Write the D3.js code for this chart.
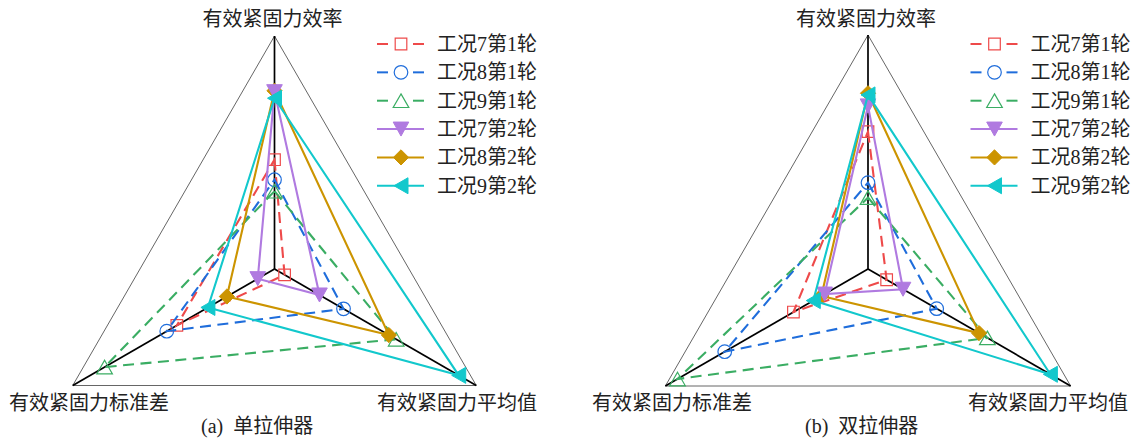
<!DOCTYPE html>
<html>
<head>
<meta charset="utf-8">
<script src="https://cdn.jsdelivr.net/npm/d3@7/dist/d3.min.js"></script>
<style>
  html, body { margin: 0; padding: 0; background: #fff; }
  svg { display: block; }
  text { font-family: "Liberation Serif", "Noto Sans CJK SC", serif; fill: #222; }
</style>
</head>
<body>
<svg id="chart" width="1139" height="439"></svg>
<script>
// Radar axes, clockwise from the top
const categories = ["有效紧固力效率", "有效紧固力平均值", "有效紧固力标准差"];

// Series names (legend order)
const seriesNames = ["工况7第1轮", "工况8第1轮", "工况9第1轮", "工况7第2轮", "工况8第2轮", "工况9第2轮"];

// Normalised values [效率, 平均值, 标准差] — (a) 单拉伸器
const singleW7R1 = [0.469, 0.050, 0.484];
const singleW8R1 = [0.383, 0.342, 0.534];
const singleW9R1 = [0.334, 0.603, 0.842];
const singleW7R2 = [0.761, 0.223, 0.083];
const singleW8R2 = [0.765, 0.567, 0.236];
const singleW9R2 = [0.733, 0.913, 0.330];

// Normalised values [效率, 平均值, 标准差] — (b) 双拉伸器
const doubleW7R1 = [0.587, 0.092, 0.368];
const doubleW8R1 = [0.369, 0.339, 0.707];
const doubleW9R1 = [0.305, 0.589, 0.940];
const doubleW7R2 = [0.697, 0.173, 0.214];
const doubleW8R2 = [0.751, 0.548, 0.230];
const doubleW9R2 = [0.744, 0.900, 0.270];

const panelTitles = ["(a)  单拉伸器", "(b)  双拉伸器"];

// Series styles
const styles = [
  { color: "#ee4a4a", marker: "square",   dashed: true,  filled: false },
  { color: "#1f6ddb", marker: "circle",   dashed: true,  filled: false },
  { color: "#3aad63", marker: "triUp",    dashed: true,  filled: false },
  { color: "#b07ae0", marker: "triDown",  dashed: false, filled: true  },
  { color: "#cc9400", marker: "diamond",  dashed: false, filled: true  },
  { color: "#12c8cc", marker: "triLeft",  dashed: false, filled: true  }
];
// Drawing order of the series (later on top)
const drawOrder = [0, 1, 2, 4, 3, 5];

const panels = [
  { cx: 274.5, cy: 269, R: 233, title: panelTitles[0],
    data: [singleW7R1, singleW8R1, singleW9R1, singleW7R2, singleW8R2, singleW9R2],
    stdLabelX: 9, meanLabelX: 377, titleX: 201 },
  { cx: 868, cy: 269, R: 234, title: panelTitles[1],
    data: [doubleW7R1, doubleW8R1, doubleW9R1, doubleW7R2, doubleW8R2, doubleW9R2],
    stdLabelX: 592, meanLabelX: 968, titleX: 805 }
];

// Marker path generators, centred on the bounding box
function markerPath(type) {
  switch (type) {
    case "square":  { const h = 5.8; return `M${-h},${-h}H${h}V${h}H${-h}Z`; }
    case "circle":  { const r = 6.8; return `M${r},0A${r},${r} 0 1,1 ${-r},0A${r},${r} 0 1,1 ${r},0Z`; }
    case "triUp":   { const w = 7.8, h = 6.8; return `M0,${-h}L${w},${h}L${-w},${h}Z`; }
    case "triDown": { const w = 7.8, h = 7; return `M0,${h}L${w},${-h}L${-w},${-h}Z`; }
    case "diamond": { const s = 7.6; return `M0,${-s}L${s},0L0,${s}L${-s},0Z`; }
    case "triLeft": { const w = 7, h = 8; return `M${-w},0L${w},${-h}L${w},${h}Z`; }
  }
}

const svg = d3.select("#chart");
const angles = [-Math.PI / 2, Math.PI / 6, 5 * Math.PI / 6];

panels.forEach(p => {
  const g = svg.append("g");
  const r = d3.scaleLinear().domain([0, 1]).range([0, p.R]);
  const pt = (i, v) => [p.cx + r(v) * Math.cos(angles[i]), p.cy + r(v) * Math.sin(angles[i])];

  // Outer frame
  g.append("path")
    .attr("d", d3.line().curve(d3.curveLinearClosed)(angles.map((a, i) => pt(i, 1))))
    .attr("fill", "none").attr("stroke", "#666").attr("stroke-width", 1);

  // Spokes
  angles.forEach((a, i) => {
    const [x, y] = pt(i, 1);
    g.append("line").attr("x1", p.cx).attr("y1", p.cy).attr("x2", x).attr("y2", y)
      .attr("stroke", "#000").attr("stroke-width", 1.7);
  });

  const lineGen = d3.line().curve(d3.curveLinearClosed);

  drawOrder.forEach(k => {
    const s = styles[k];
    const vals = p.data[k];
    const pts = vals.map((v, i) => pt(i, v));
    const sg = g.append("g");
    sg.append("path")
      .attr("d", lineGen(pts))
      .attr("fill", "none")
      .attr("stroke", s.color)
      .attr("stroke-width", 2.1)
      .attr("stroke-dasharray", s.dashed ? "11,6.5" : null);
    sg.selectAll("path.m").data(pts).enter().append("path")
      .attr("class", "m")
      .attr("d", markerPath(s.marker))
      .attr("transform", d => `translate(${d[0]},${d[1]})`)
      .attr("fill", s.filled ? s.color : "none")
      .attr("stroke", s.color)
      .attr("stroke-width", s.filled ? 1 : 1.2);
  });

  // Axis labels
  g.append("text").attr("x", p.cx - 2).attr("y", 26).attr("text-anchor", "middle")
    .attr("font-size", 20).text(categories[0]);
  g.append("text").attr("x", p.meanLabelX).attr("y", 410).attr("text-anchor", "start")
    .attr("font-size", 20).text(categories[1]);
  g.append("text").attr("x", p.stdLabelX).attr("y", 410).attr("text-anchor", "start")
    .attr("font-size", 20).text(categories[2]);

  // Panel caption
  g.append("text").attr("x", p.titleX).attr("y", 433).attr("font-size", 20)
    .attr("xml:space", "preserve").style("white-space", "pre").text(p.title);

  // Legend
  const lx = p.cx + 102.5, ly0 = 44, dy = 28.35;
  seriesNames.forEach((name, k) => {
    const s = styles[k];
    const y = ly0 + k * dy;
    const lg = g.append("g");
    if (s.dashed) {
      lg.append("line").attr("x1", lx).attr("x2", lx + 11).attr("y1", y).attr("y2", y)
        .attr("stroke", s.color).attr("stroke-width", 2);
      lg.append("line").attr("x1", lx + 36).attr("x2", lx + 47).attr("y1", y).attr("y2", y)
        .attr("stroke", s.color).attr("stroke-width", 2);
    } else {
      lg.append("line").attr("x1", lx).attr("x2", lx + 47).attr("y1", y).attr("y2", y)
        .attr("stroke", s.color).attr("stroke-width", 2);
    }
    lg.append("path").attr("d", markerPath(s.marker))
      .attr("transform", `translate(${lx + 24},${y})`)
      .attr("fill", s.filled ? s.color : "#fff")
      .attr("stroke", s.color).attr("stroke-width", s.filled ? 1 : 1.2);
    lg.append("text").attr("x", lx + 60).attr("y", y + 7).attr("font-size", 20).text(name);
  });
});
</script>
</body>
</html>
